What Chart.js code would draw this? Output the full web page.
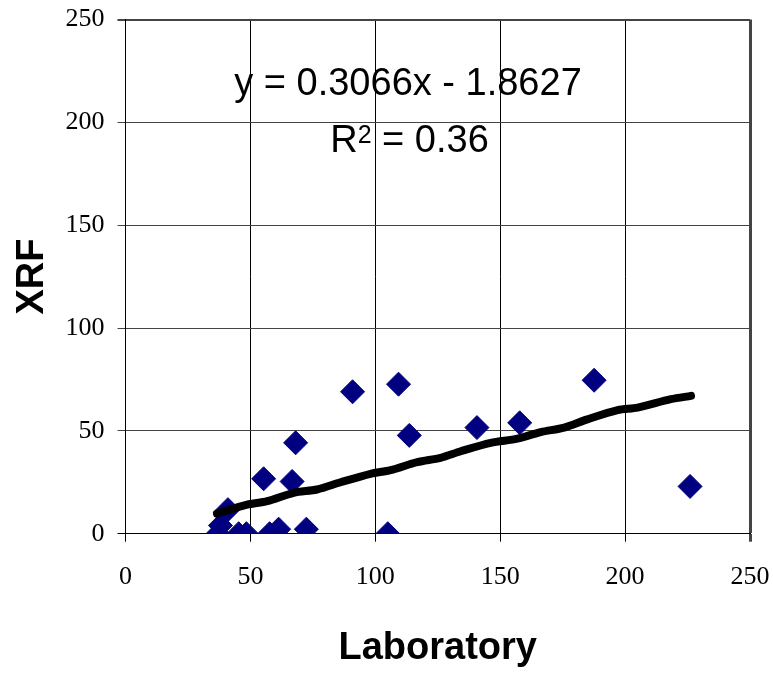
<!DOCTYPE html>
<html>
<head>
<meta charset="utf-8">
<script src="https://cdn.jsdelivr.net/npm/chart.js@4/dist/chart.umd.min.js"></script>
<style>
    body { margin: 0; background: #fff; }
    canvas { display: block; }
</style>
</head>
<body>
<canvas id="xrfChart" width="773" height="676"></canvas>
<script>
// measured pairs, sorted by laboratory value
const laboratory = [37.0, 38.0, 41.0, 45.3, 48.4, 55.3, 57.7, 61.3, 66.7, 68.1, 72.4, 90.9, 105.0, 109.3, 113.6, 140.7, 157.8, 187.6, 226.0];
const xrf = [0, 4, 11.7, 0, 0, 26.7, 0, 2.2, 25.4, 44.2, 2.2, 69.0, 0, 72.7, 47.8, 51.6, 53.9, 74.6, 23.0];

// trend line as drawn in the figure
const trendX = [36.6, 48.7, 56.7, 67.3, 76.7, 86.1, 98.1, 106.1, 116.8, 126.1, 134.2, 146.2, 156.9, 166.2, 175.6, 184.9, 197.0, 205.0, 218.3, 226.4];
const trendY = [9.8, 14.1, 15.8, 19.9, 21.5, 25.0, 29.1, 30.9, 34.8, 36.9, 40.1, 44.2, 46.2, 49.4, 51.6, 55.6, 60.1, 61.3, 65.4, 67.0];

const axisTicks = [0, 50, 100, 150, 200, 250];
const equationText = "y = 0.3066x - 1.8627";
const r2Text = " = 0.36";

function toPoints(xs, ys) {
    return xs.map((x, i) => ({ x: x, y: ys[i] }));
}

const equationPlugin = {
    id: "equation",
    afterDraw(chart) {
        const ctx = chart.ctx;
        ctx.save();
        ctx.fillStyle = "#000";
        ctx.textBaseline = "alphabetic";
        ctx.font = '38px "Liberation Sans", Arial, sans-serif';
        ctx.textAlign = "center";
        ctx.fillText(equationText, 408, 95);

        // R² line with a real superscript
        ctx.textAlign = "left";
        const bigFont = '38px "Liberation Sans", Arial, sans-serif';
        const supFont = '25px "Liberation Sans", Arial, sans-serif';
        ctx.font = bigFont;
        const wR = ctx.measureText("R").width;
        const wRest = ctx.measureText(r2Text).width;
        ctx.font = supFont;
        const w2 = ctx.measureText("2").width;
        let x = 409.5 - (wR + w2 + wRest) / 2;
        ctx.font = bigFont;
        ctx.fillText("R", x, 152);
        x += wR;
        ctx.font = supFont;
        ctx.fillText("2", x, 143);
        x += w2;
        ctx.font = bigFont;
        ctx.fillText(r2Text, x, 152);
        ctx.restore();
    }
};

const tickFont = { family: '"Liberation Serif", "Times New Roman", serif', size: 26 };
const titleFont = { family: '"Liberation Sans", Arial, sans-serif', size: 38, weight: "bold" };

new Chart(document.getElementById("xrfChart"), {
    type: "scatter",
    data: {
        datasets: [{
            label: "Trend",
            type: "line",
            data: toPoints(trendX, trendY),
            borderColor: "#000",
            borderWidth: 8,
            borderCapStyle: "round",
            borderJoinStyle: "round",
            tension: 0.3,
            pointRadius: 0,
            fill: false,
            order: 0
        }, {
            label: "XRF",
            data: toPoints(laboratory, xrf),
            pointStyle: "rectRot",
            pointRadius: 12,
            pointBackgroundColor: "#000080",
            pointBorderColor: "#000080",
            pointBorderWidth: 1,
            order: 1
        }]
    },
    options: {
        responsive: false,
        animation: false,
        layout: { padding: { top: 19.5, right: 23, bottom: 0, left: 0 } },
        plugins: {
            legend: { display: false },
            tooltip: { enabled: false }
        },
        scales: {
            x: {
                type: "linear",
                min: 0,
                max: 250,
                afterBuildTicks: (s) => { s.ticks = axisTicks.map(v => ({ value: v })); },
                afterFit: (s) => {
                    s.height = 142.3;
                    s.paddingLeft = 0;
                    s.paddingRight = 0;
                },
                ticks: { color: "#000", font: tickFont, padding: 20, maxRotation: 0 },
                grid: {
                    color: (c) => c.tick && c.tick.value === 250 ? "#444" : "#000",
                    lineWidth: (c) => c.tick && c.tick.value === 250 ? 3 : 1,
                    tickLength: 8
                },
                border: { color: "#000", width: 1 },
                title: {
                    display: true,
                    text: "Laboratory",
                    color: "#000",
                    font: titleFont,
                    padding: { top: 0, bottom: 5 }
                }
            },
            y: {
                type: "linear",
                min: 0,
                max: 250,
                afterBuildTicks: (s) => { s.ticks = axisTicks.map(v => ({ value: v })); },
                afterFit: (s) => {
                    s.width = 125.5;
                    s.paddingTop = 0;
                    s.paddingBottom = 0;
                },
                ticks: { color: "#000", font: tickFont, padding: 13 },
                grid: {
                    color: (c) => c.tick && c.tick.value === 0 ? "#000" : "#444",
                    lineWidth: (c) => c.tick && c.tick.value === 250 ? 2 : 1,
                    tickLength: 8
                },
                border: { color: "#000", width: 1 },
                title: {
                    display: true,
                    text: "XRF",
                    color: "#000",
                    font: titleFont,
                    padding: { top: 10, bottom: 0 }
                }
            }
        }
    },
    plugins: [equationPlugin]
});
</script>
</body>
</html>
